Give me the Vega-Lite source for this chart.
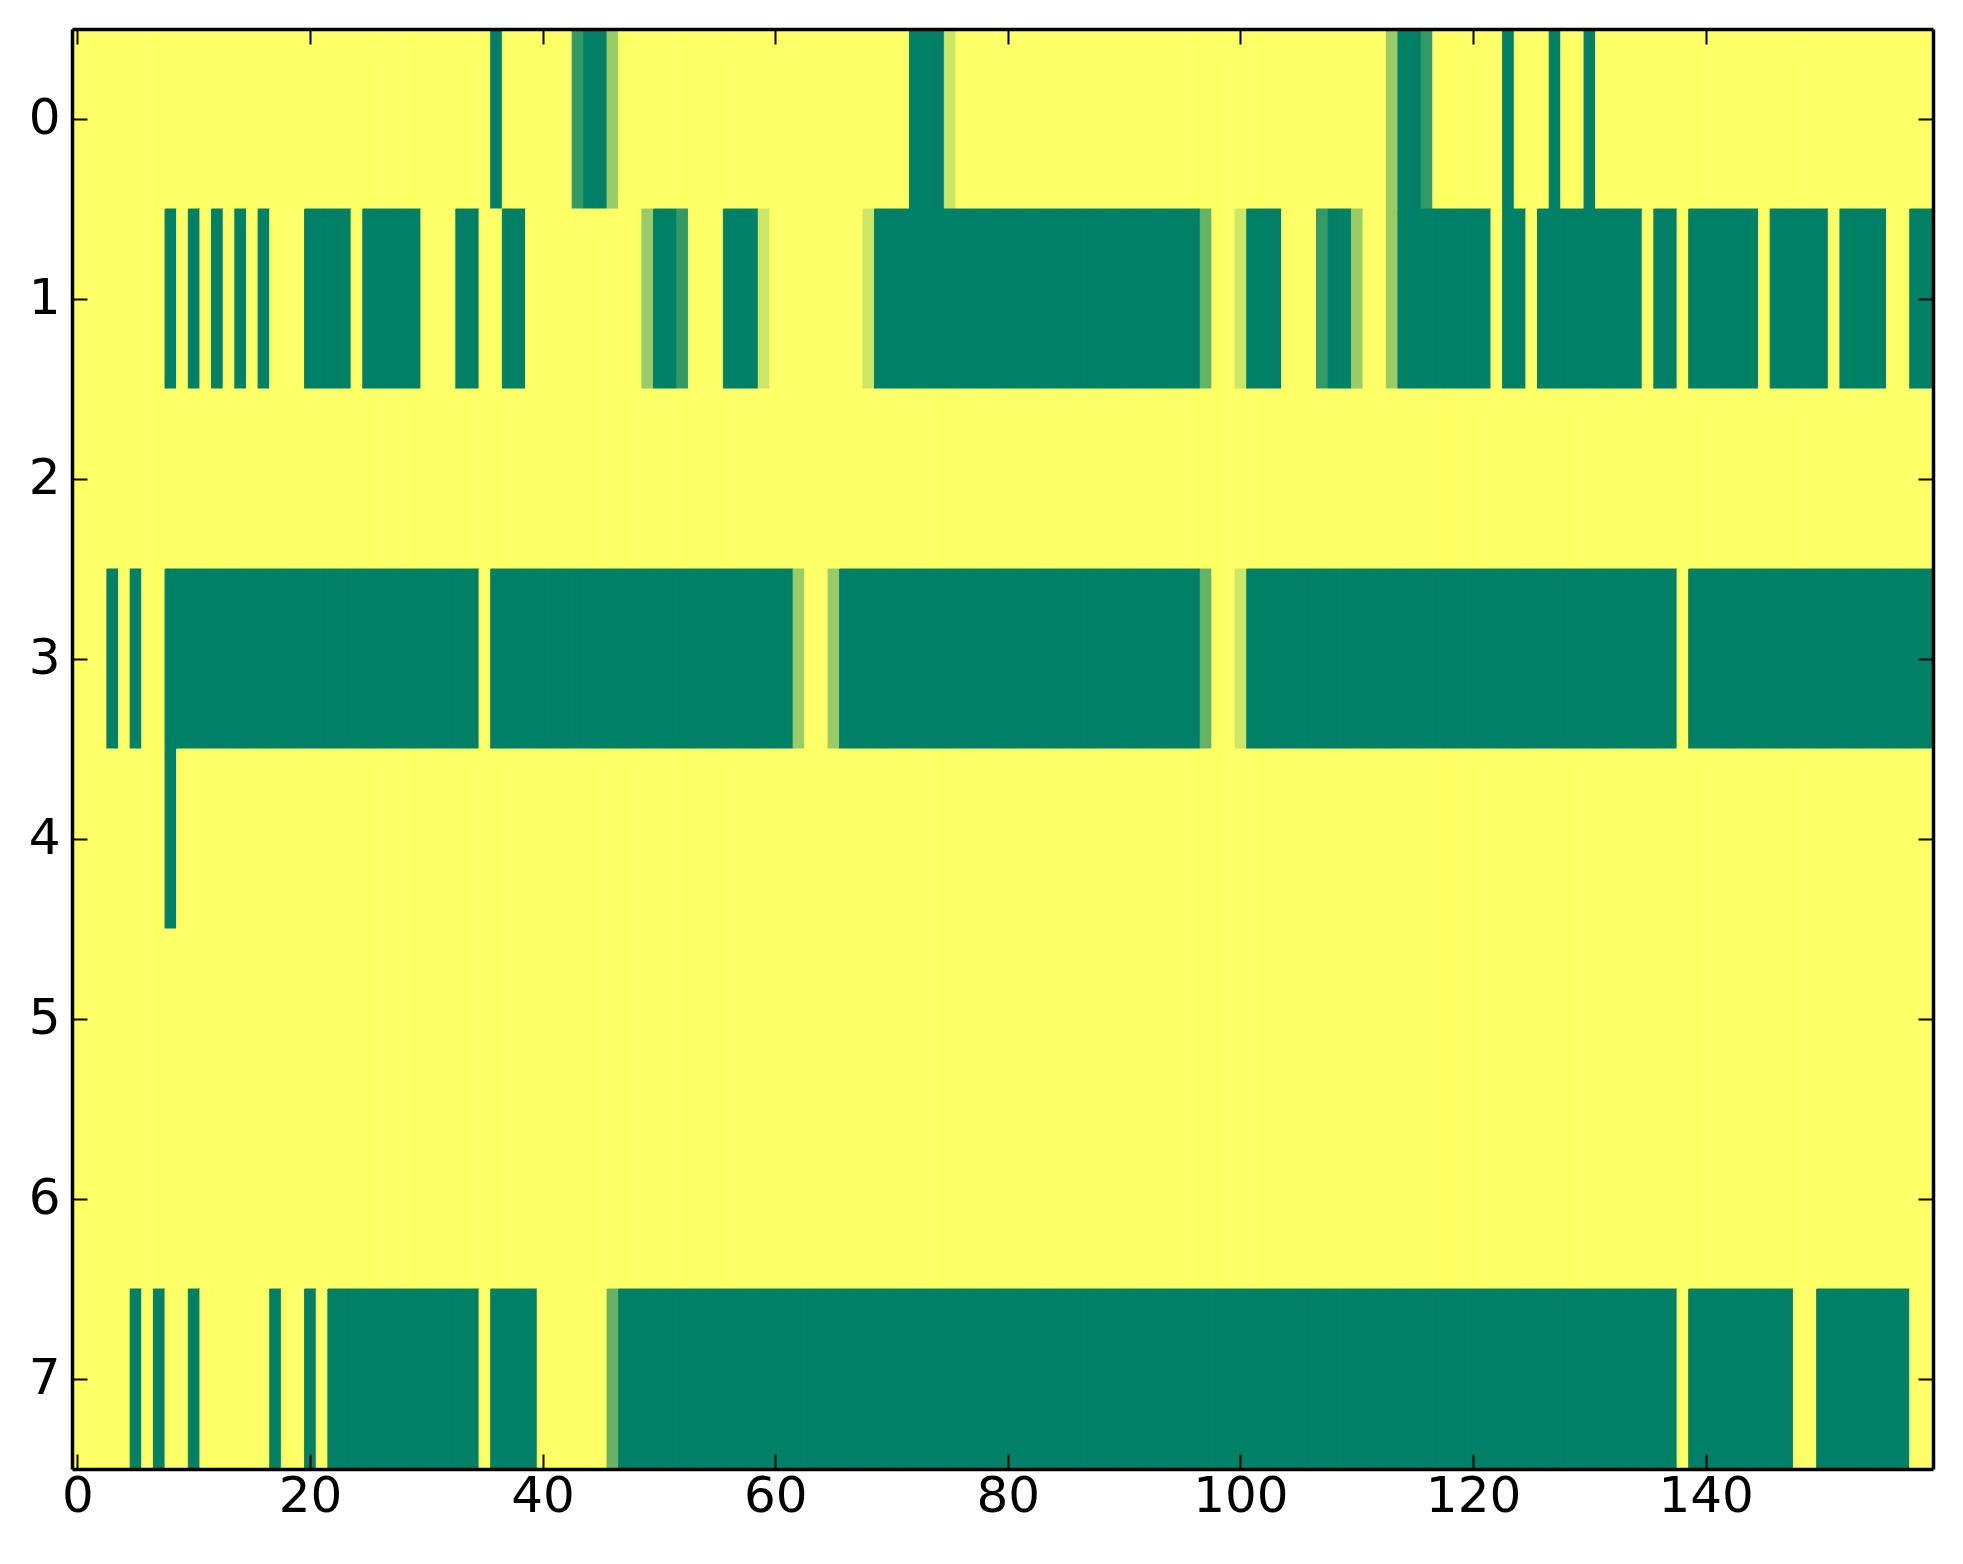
{
"$schema": "https://vega.github.io/schema/vega-lite/v6.json",
"width": 1861, "height": 1440,
"autosize": {"type": "none"},
"padding": {"left": 72, "top": 29, "right": 30, "bottom": 95},
"background": "white",
"config": {"view": {"stroke": null}},
"data": {"values": [
{"r":0,"c":0,"v":1},{"r":0,"c":1,"v":1},{"r":0,"c":2,"v":1},{"r":0,"c":3,"v":1},{"r":0,"c":4,"v":1},{"r":0,"c":5,"v":1},{"r":0,"c":6,"v":1},{"r":0,"c":7,"v":1},{"r":0,"c":8,"v":1},{"r":0,"c":9,"v":1},
{"r":0,"c":10,"v":1},{"r":0,"c":11,"v":1},{"r":0,"c":12,"v":1},{"r":0,"c":13,"v":1},{"r":0,"c":14,"v":1},{"r":0,"c":15,"v":1},{"r":0,"c":16,"v":1},{"r":0,"c":17,"v":1},{"r":0,"c":18,"v":1},{"r":0,"c":19,"v":1},
{"r":0,"c":20,"v":1},{"r":0,"c":21,"v":1},{"r":0,"c":22,"v":1},{"r":0,"c":23,"v":1},{"r":0,"c":24,"v":1},{"r":0,"c":25,"v":1},{"r":0,"c":26,"v":1},{"r":0,"c":27,"v":1},{"r":0,"c":28,"v":1},{"r":0,"c":29,"v":1},
{"r":0,"c":30,"v":1},{"r":0,"c":31,"v":1},{"r":0,"c":32,"v":1},{"r":0,"c":33,"v":1},{"r":0,"c":34,"v":1},{"r":0,"c":35,"v":1},{"r":0,"c":36,"v":0},{"r":0,"c":37,"v":1},{"r":0,"c":38,"v":1},{"r":0,"c":39,"v":1},
{"r":0,"c":40,"v":1},{"r":0,"c":41,"v":1},{"r":0,"c":42,"v":1},{"r":0,"c":43,"v":0.2},{"r":0,"c":44,"v":0},{"r":0,"c":45,"v":0},{"r":0,"c":46,"v":0.6},{"r":0,"c":47,"v":1},{"r":0,"c":48,"v":1},{"r":0,"c":49,"v":1},
{"r":0,"c":50,"v":1},{"r":0,"c":51,"v":1},{"r":0,"c":52,"v":1},{"r":0,"c":53,"v":1},{"r":0,"c":54,"v":1},{"r":0,"c":55,"v":1},{"r":0,"c":56,"v":1},{"r":0,"c":57,"v":1},{"r":0,"c":58,"v":1},{"r":0,"c":59,"v":1},
{"r":0,"c":60,"v":1},{"r":0,"c":61,"v":1},{"r":0,"c":62,"v":1},{"r":0,"c":63,"v":1},{"r":0,"c":64,"v":1},{"r":0,"c":65,"v":1},{"r":0,"c":66,"v":1},{"r":0,"c":67,"v":1},{"r":0,"c":68,"v":1},{"r":0,"c":69,"v":1},
{"r":0,"c":70,"v":1},{"r":0,"c":71,"v":1},{"r":0,"c":72,"v":0},{"r":0,"c":73,"v":0},{"r":0,"c":74,"v":0},{"r":0,"c":75,"v":0.8},{"r":0,"c":76,"v":1},{"r":0,"c":77,"v":1},{"r":0,"c":78,"v":1},{"r":0,"c":79,"v":1},
{"r":0,"c":80,"v":1},{"r":0,"c":81,"v":1},{"r":0,"c":82,"v":1},{"r":0,"c":83,"v":1},{"r":0,"c":84,"v":1},{"r":0,"c":85,"v":1},{"r":0,"c":86,"v":1},{"r":0,"c":87,"v":1},{"r":0,"c":88,"v":1},{"r":0,"c":89,"v":1},
{"r":0,"c":90,"v":1},{"r":0,"c":91,"v":1},{"r":0,"c":92,"v":1},{"r":0,"c":93,"v":1},{"r":0,"c":94,"v":1},{"r":0,"c":95,"v":1},{"r":0,"c":96,"v":1},{"r":0,"c":97,"v":1},{"r":0,"c":98,"v":1},{"r":0,"c":99,"v":1},
{"r":0,"c":100,"v":1},{"r":0,"c":101,"v":1},{"r":0,"c":102,"v":1},{"r":0,"c":103,"v":1},{"r":0,"c":104,"v":1},{"r":0,"c":105,"v":1},{"r":0,"c":106,"v":1},{"r":0,"c":107,"v":1},{"r":0,"c":108,"v":1},{"r":0,"c":109,"v":1},
{"r":0,"c":110,"v":1},{"r":0,"c":111,"v":1},{"r":0,"c":112,"v":1},{"r":0,"c":113,"v":0.6},{"r":0,"c":114,"v":0},{"r":0,"c":115,"v":0},{"r":0,"c":116,"v":0.2},{"r":0,"c":117,"v":1},{"r":0,"c":118,"v":1},{"r":0,"c":119,"v":1},
{"r":0,"c":120,"v":1},{"r":0,"c":121,"v":1},{"r":0,"c":122,"v":1},{"r":0,"c":123,"v":0},{"r":0,"c":124,"v":1},{"r":0,"c":125,"v":1},{"r":0,"c":126,"v":1},{"r":0,"c":127,"v":0},{"r":0,"c":128,"v":1},{"r":0,"c":129,"v":1},
{"r":0,"c":130,"v":0},{"r":0,"c":131,"v":1},{"r":0,"c":132,"v":1},{"r":0,"c":133,"v":1},{"r":0,"c":134,"v":1},{"r":0,"c":135,"v":1},{"r":0,"c":136,"v":1},{"r":0,"c":137,"v":1},{"r":0,"c":138,"v":1},{"r":0,"c":139,"v":1},
{"r":0,"c":140,"v":1},{"r":0,"c":141,"v":1},{"r":0,"c":142,"v":1},{"r":0,"c":143,"v":1},{"r":0,"c":144,"v":1},{"r":0,"c":145,"v":1},{"r":0,"c":146,"v":1},{"r":0,"c":147,"v":1},{"r":0,"c":148,"v":1},{"r":0,"c":149,"v":1},
{"r":0,"c":150,"v":1},{"r":0,"c":151,"v":1},{"r":0,"c":152,"v":1},{"r":0,"c":153,"v":1},{"r":0,"c":154,"v":1},{"r":0,"c":155,"v":1},{"r":0,"c":156,"v":1},{"r":0,"c":157,"v":1},{"r":0,"c":158,"v":1},{"r":0,"c":159,"v":1},
{"r":1,"c":0,"v":1},{"r":1,"c":1,"v":1},{"r":1,"c":2,"v":1},{"r":1,"c":3,"v":1},{"r":1,"c":4,"v":1},{"r":1,"c":5,"v":1},{"r":1,"c":6,"v":1},{"r":1,"c":7,"v":1},{"r":1,"c":8,"v":0},{"r":1,"c":9,"v":1},
{"r":1,"c":10,"v":0},{"r":1,"c":11,"v":1},{"r":1,"c":12,"v":0},{"r":1,"c":13,"v":1},{"r":1,"c":14,"v":0},{"r":1,"c":15,"v":1},{"r":1,"c":16,"v":0},{"r":1,"c":17,"v":1},{"r":1,"c":18,"v":1},{"r":1,"c":19,"v":1},
{"r":1,"c":20,"v":0},{"r":1,"c":21,"v":0},{"r":1,"c":22,"v":0},{"r":1,"c":23,"v":0},{"r":1,"c":24,"v":1},{"r":1,"c":25,"v":0},{"r":1,"c":26,"v":0},{"r":1,"c":27,"v":0},{"r":1,"c":28,"v":0},{"r":1,"c":29,"v":0},
{"r":1,"c":30,"v":1},{"r":1,"c":31,"v":1},{"r":1,"c":32,"v":1},{"r":1,"c":33,"v":0},{"r":1,"c":34,"v":0},{"r":1,"c":35,"v":1},{"r":1,"c":36,"v":1},{"r":1,"c":37,"v":0},{"r":1,"c":38,"v":0},{"r":1,"c":39,"v":1},
{"r":1,"c":40,"v":1},{"r":1,"c":41,"v":1},{"r":1,"c":42,"v":1},{"r":1,"c":43,"v":1},{"r":1,"c":44,"v":1},{"r":1,"c":45,"v":1},{"r":1,"c":46,"v":1},{"r":1,"c":47,"v":1},{"r":1,"c":48,"v":1},{"r":1,"c":49,"v":0.6},
{"r":1,"c":50,"v":0},{"r":1,"c":51,"v":0},{"r":1,"c":52,"v":0.2},{"r":1,"c":53,"v":1},{"r":1,"c":54,"v":1},{"r":1,"c":55,"v":1},{"r":1,"c":56,"v":0},{"r":1,"c":57,"v":0},{"r":1,"c":58,"v":0},{"r":1,"c":59,"v":0.8},
{"r":1,"c":60,"v":1},{"r":1,"c":61,"v":1},{"r":1,"c":62,"v":1},{"r":1,"c":63,"v":1},{"r":1,"c":64,"v":1},{"r":1,"c":65,"v":1},{"r":1,"c":66,"v":1},{"r":1,"c":67,"v":1},{"r":1,"c":68,"v":0.8},{"r":1,"c":69,"v":0},
{"r":1,"c":70,"v":0},{"r":1,"c":71,"v":0},{"r":1,"c":72,"v":0},{"r":1,"c":73,"v":0},{"r":1,"c":74,"v":0},{"r":1,"c":75,"v":0},{"r":1,"c":76,"v":0},{"r":1,"c":77,"v":0},{"r":1,"c":78,"v":0},{"r":1,"c":79,"v":0},
{"r":1,"c":80,"v":0},{"r":1,"c":81,"v":0},{"r":1,"c":82,"v":0},{"r":1,"c":83,"v":0},{"r":1,"c":84,"v":0},{"r":1,"c":85,"v":0},{"r":1,"c":86,"v":0},{"r":1,"c":87,"v":0},{"r":1,"c":88,"v":0},{"r":1,"c":89,"v":0},
{"r":1,"c":90,"v":0},{"r":1,"c":91,"v":0},{"r":1,"c":92,"v":0},{"r":1,"c":93,"v":0},{"r":1,"c":94,"v":0},{"r":1,"c":95,"v":0},{"r":1,"c":96,"v":0},{"r":1,"c":97,"v":0.4},{"r":1,"c":98,"v":1},{"r":1,"c":99,"v":1},
{"r":1,"c":100,"v":0.8},{"r":1,"c":101,"v":0},{"r":1,"c":102,"v":0},{"r":1,"c":103,"v":0},{"r":1,"c":104,"v":1},{"r":1,"c":105,"v":1},{"r":1,"c":106,"v":1},{"r":1,"c":107,"v":0.2},{"r":1,"c":108,"v":0},{"r":1,"c":109,"v":0},
{"r":1,"c":110,"v":0.6},{"r":1,"c":111,"v":1},{"r":1,"c":112,"v":1},{"r":1,"c":113,"v":0.6},{"r":1,"c":114,"v":0},{"r":1,"c":115,"v":0},{"r":1,"c":116,"v":0},{"r":1,"c":117,"v":0},{"r":1,"c":118,"v":0},{"r":1,"c":119,"v":0},
{"r":1,"c":120,"v":0},{"r":1,"c":121,"v":0},{"r":1,"c":122,"v":1},{"r":1,"c":123,"v":0},{"r":1,"c":124,"v":0},{"r":1,"c":125,"v":1},{"r":1,"c":126,"v":0},{"r":1,"c":127,"v":0},{"r":1,"c":128,"v":0},{"r":1,"c":129,"v":0},
{"r":1,"c":130,"v":0},{"r":1,"c":131,"v":0},{"r":1,"c":132,"v":0},{"r":1,"c":133,"v":0},{"r":1,"c":134,"v":0},{"r":1,"c":135,"v":1},{"r":1,"c":136,"v":0},{"r":1,"c":137,"v":0},{"r":1,"c":138,"v":1},{"r":1,"c":139,"v":0},
{"r":1,"c":140,"v":0},{"r":1,"c":141,"v":0},{"r":1,"c":142,"v":0},{"r":1,"c":143,"v":0},{"r":1,"c":144,"v":0},{"r":1,"c":145,"v":1},{"r":1,"c":146,"v":0},{"r":1,"c":147,"v":0},{"r":1,"c":148,"v":0},{"r":1,"c":149,"v":0},
{"r":1,"c":150,"v":0},{"r":1,"c":151,"v":1},{"r":1,"c":152,"v":0},{"r":1,"c":153,"v":0},{"r":1,"c":154,"v":0},{"r":1,"c":155,"v":0},{"r":1,"c":156,"v":1},{"r":1,"c":157,"v":1},{"r":1,"c":158,"v":0},{"r":1,"c":159,"v":0},
{"r":2,"c":0,"v":1},{"r":2,"c":1,"v":1},{"r":2,"c":2,"v":1},{"r":2,"c":3,"v":1},{"r":2,"c":4,"v":1},{"r":2,"c":5,"v":1},{"r":2,"c":6,"v":1},{"r":2,"c":7,"v":1},{"r":2,"c":8,"v":1},{"r":2,"c":9,"v":1},
{"r":2,"c":10,"v":1},{"r":2,"c":11,"v":1},{"r":2,"c":12,"v":1},{"r":2,"c":13,"v":1},{"r":2,"c":14,"v":1},{"r":2,"c":15,"v":1},{"r":2,"c":16,"v":1},{"r":2,"c":17,"v":1},{"r":2,"c":18,"v":1},{"r":2,"c":19,"v":1},
{"r":2,"c":20,"v":1},{"r":2,"c":21,"v":1},{"r":2,"c":22,"v":1},{"r":2,"c":23,"v":1},{"r":2,"c":24,"v":1},{"r":2,"c":25,"v":1},{"r":2,"c":26,"v":1},{"r":2,"c":27,"v":1},{"r":2,"c":28,"v":1},{"r":2,"c":29,"v":1},
{"r":2,"c":30,"v":1},{"r":2,"c":31,"v":1},{"r":2,"c":32,"v":1},{"r":2,"c":33,"v":1},{"r":2,"c":34,"v":1},{"r":2,"c":35,"v":1},{"r":2,"c":36,"v":1},{"r":2,"c":37,"v":1},{"r":2,"c":38,"v":1},{"r":2,"c":39,"v":1},
{"r":2,"c":40,"v":1},{"r":2,"c":41,"v":1},{"r":2,"c":42,"v":1},{"r":2,"c":43,"v":1},{"r":2,"c":44,"v":1},{"r":2,"c":45,"v":1},{"r":2,"c":46,"v":1},{"r":2,"c":47,"v":1},{"r":2,"c":48,"v":1},{"r":2,"c":49,"v":1},
{"r":2,"c":50,"v":1},{"r":2,"c":51,"v":1},{"r":2,"c":52,"v":1},{"r":2,"c":53,"v":1},{"r":2,"c":54,"v":1},{"r":2,"c":55,"v":1},{"r":2,"c":56,"v":1},{"r":2,"c":57,"v":1},{"r":2,"c":58,"v":1},{"r":2,"c":59,"v":1},
{"r":2,"c":60,"v":1},{"r":2,"c":61,"v":1},{"r":2,"c":62,"v":1},{"r":2,"c":63,"v":1},{"r":2,"c":64,"v":1},{"r":2,"c":65,"v":1},{"r":2,"c":66,"v":1},{"r":2,"c":67,"v":1},{"r":2,"c":68,"v":1},{"r":2,"c":69,"v":1},
{"r":2,"c":70,"v":1},{"r":2,"c":71,"v":1},{"r":2,"c":72,"v":1},{"r":2,"c":73,"v":1},{"r":2,"c":74,"v":1},{"r":2,"c":75,"v":1},{"r":2,"c":76,"v":1},{"r":2,"c":77,"v":1},{"r":2,"c":78,"v":1},{"r":2,"c":79,"v":1},
{"r":2,"c":80,"v":1},{"r":2,"c":81,"v":1},{"r":2,"c":82,"v":1},{"r":2,"c":83,"v":1},{"r":2,"c":84,"v":1},{"r":2,"c":85,"v":1},{"r":2,"c":86,"v":1},{"r":2,"c":87,"v":1},{"r":2,"c":88,"v":1},{"r":2,"c":89,"v":1},
{"r":2,"c":90,"v":1},{"r":2,"c":91,"v":1},{"r":2,"c":92,"v":1},{"r":2,"c":93,"v":1},{"r":2,"c":94,"v":1},{"r":2,"c":95,"v":1},{"r":2,"c":96,"v":1},{"r":2,"c":97,"v":1},{"r":2,"c":98,"v":1},{"r":2,"c":99,"v":1},
{"r":2,"c":100,"v":1},{"r":2,"c":101,"v":1},{"r":2,"c":102,"v":1},{"r":2,"c":103,"v":1},{"r":2,"c":104,"v":1},{"r":2,"c":105,"v":1},{"r":2,"c":106,"v":1},{"r":2,"c":107,"v":1},{"r":2,"c":108,"v":1},{"r":2,"c":109,"v":1},
{"r":2,"c":110,"v":1},{"r":2,"c":111,"v":1},{"r":2,"c":112,"v":1},{"r":2,"c":113,"v":1},{"r":2,"c":114,"v":1},{"r":2,"c":115,"v":1},{"r":2,"c":116,"v":1},{"r":2,"c":117,"v":1},{"r":2,"c":118,"v":1},{"r":2,"c":119,"v":1},
{"r":2,"c":120,"v":1},{"r":2,"c":121,"v":1},{"r":2,"c":122,"v":1},{"r":2,"c":123,"v":1},{"r":2,"c":124,"v":1},{"r":2,"c":125,"v":1},{"r":2,"c":126,"v":1},{"r":2,"c":127,"v":1},{"r":2,"c":128,"v":1},{"r":2,"c":129,"v":1},
{"r":2,"c":130,"v":1},{"r":2,"c":131,"v":1},{"r":2,"c":132,"v":1},{"r":2,"c":133,"v":1},{"r":2,"c":134,"v":1},{"r":2,"c":135,"v":1},{"r":2,"c":136,"v":1},{"r":2,"c":137,"v":1},{"r":2,"c":138,"v":1},{"r":2,"c":139,"v":1},
{"r":2,"c":140,"v":1},{"r":2,"c":141,"v":1},{"r":2,"c":142,"v":1},{"r":2,"c":143,"v":1},{"r":2,"c":144,"v":1},{"r":2,"c":145,"v":1},{"r":2,"c":146,"v":1},{"r":2,"c":147,"v":1},{"r":2,"c":148,"v":1},{"r":2,"c":149,"v":1},
{"r":2,"c":150,"v":1},{"r":2,"c":151,"v":1},{"r":2,"c":152,"v":1},{"r":2,"c":153,"v":1},{"r":2,"c":154,"v":1},{"r":2,"c":155,"v":1},{"r":2,"c":156,"v":1},{"r":2,"c":157,"v":1},{"r":2,"c":158,"v":1},{"r":2,"c":159,"v":1},
{"r":3,"c":0,"v":1},{"r":3,"c":1,"v":1},{"r":3,"c":2,"v":1},{"r":3,"c":3,"v":0},{"r":3,"c":4,"v":1},{"r":3,"c":5,"v":0},{"r":3,"c":6,"v":1},{"r":3,"c":7,"v":1},{"r":3,"c":8,"v":0},{"r":3,"c":9,"v":0},
{"r":3,"c":10,"v":0},{"r":3,"c":11,"v":0},{"r":3,"c":12,"v":0},{"r":3,"c":13,"v":0},{"r":3,"c":14,"v":0},{"r":3,"c":15,"v":0},{"r":3,"c":16,"v":0},{"r":3,"c":17,"v":0},{"r":3,"c":18,"v":0},{"r":3,"c":19,"v":0},
{"r":3,"c":20,"v":0},{"r":3,"c":21,"v":0},{"r":3,"c":22,"v":0},{"r":3,"c":23,"v":0},{"r":3,"c":24,"v":0},{"r":3,"c":25,"v":0},{"r":3,"c":26,"v":0},{"r":3,"c":27,"v":0},{"r":3,"c":28,"v":0},{"r":3,"c":29,"v":0},
{"r":3,"c":30,"v":0},{"r":3,"c":31,"v":0},{"r":3,"c":32,"v":0},{"r":3,"c":33,"v":0},{"r":3,"c":34,"v":0},{"r":3,"c":35,"v":1},{"r":3,"c":36,"v":0},{"r":3,"c":37,"v":0},{"r":3,"c":38,"v":0},{"r":3,"c":39,"v":0},
{"r":3,"c":40,"v":0},{"r":3,"c":41,"v":0},{"r":3,"c":42,"v":0},{"r":3,"c":43,"v":0},{"r":3,"c":44,"v":0},{"r":3,"c":45,"v":0},{"r":3,"c":46,"v":0},{"r":3,"c":47,"v":0},{"r":3,"c":48,"v":0},{"r":3,"c":49,"v":0},
{"r":3,"c":50,"v":0},{"r":3,"c":51,"v":0},{"r":3,"c":52,"v":0},{"r":3,"c":53,"v":0},{"r":3,"c":54,"v":0},{"r":3,"c":55,"v":0},{"r":3,"c":56,"v":0},{"r":3,"c":57,"v":0},{"r":3,"c":58,"v":0},{"r":3,"c":59,"v":0},
{"r":3,"c":60,"v":0},{"r":3,"c":61,"v":0},{"r":3,"c":62,"v":0.6},{"r":3,"c":63,"v":1},{"r":3,"c":64,"v":1},{"r":3,"c":65,"v":0.6},{"r":3,"c":66,"v":0},{"r":3,"c":67,"v":0},{"r":3,"c":68,"v":0},{"r":3,"c":69,"v":0},
{"r":3,"c":70,"v":0},{"r":3,"c":71,"v":0},{"r":3,"c":72,"v":0},{"r":3,"c":73,"v":0},{"r":3,"c":74,"v":0},{"r":3,"c":75,"v":0},{"r":3,"c":76,"v":0},{"r":3,"c":77,"v":0},{"r":3,"c":78,"v":0},{"r":3,"c":79,"v":0},
{"r":3,"c":80,"v":0},{"r":3,"c":81,"v":0},{"r":3,"c":82,"v":0},{"r":3,"c":83,"v":0},{"r":3,"c":84,"v":0},{"r":3,"c":85,"v":0},{"r":3,"c":86,"v":0},{"r":3,"c":87,"v":0},{"r":3,"c":88,"v":0},{"r":3,"c":89,"v":0},
{"r":3,"c":90,"v":0},{"r":3,"c":91,"v":0},{"r":3,"c":92,"v":0},{"r":3,"c":93,"v":0},{"r":3,"c":94,"v":0},{"r":3,"c":95,"v":0},{"r":3,"c":96,"v":0},{"r":3,"c":97,"v":0.4},{"r":3,"c":98,"v":1},{"r":3,"c":99,"v":1},
{"r":3,"c":100,"v":0.8},{"r":3,"c":101,"v":0},{"r":3,"c":102,"v":0},{"r":3,"c":103,"v":0},{"r":3,"c":104,"v":0},{"r":3,"c":105,"v":0},{"r":3,"c":106,"v":0},{"r":3,"c":107,"v":0},{"r":3,"c":108,"v":0},{"r":3,"c":109,"v":0},
{"r":3,"c":110,"v":0},{"r":3,"c":111,"v":0},{"r":3,"c":112,"v":0},{"r":3,"c":113,"v":0},{"r":3,"c":114,"v":0},{"r":3,"c":115,"v":0},{"r":3,"c":116,"v":0},{"r":3,"c":117,"v":0},{"r":3,"c":118,"v":0},{"r":3,"c":119,"v":0},
{"r":3,"c":120,"v":0},{"r":3,"c":121,"v":0},{"r":3,"c":122,"v":0},{"r":3,"c":123,"v":0},{"r":3,"c":124,"v":0},{"r":3,"c":125,"v":0},{"r":3,"c":126,"v":0},{"r":3,"c":127,"v":0},{"r":3,"c":128,"v":0},{"r":3,"c":129,"v":0},
{"r":3,"c":130,"v":0},{"r":3,"c":131,"v":0},{"r":3,"c":132,"v":0},{"r":3,"c":133,"v":0},{"r":3,"c":134,"v":0},{"r":3,"c":135,"v":0},{"r":3,"c":136,"v":0},{"r":3,"c":137,"v":0},{"r":3,"c":138,"v":1},{"r":3,"c":139,"v":0},
{"r":3,"c":140,"v":0},{"r":3,"c":141,"v":0},{"r":3,"c":142,"v":0},{"r":3,"c":143,"v":0},{"r":3,"c":144,"v":0},{"r":3,"c":145,"v":0},{"r":3,"c":146,"v":0},{"r":3,"c":147,"v":0},{"r":3,"c":148,"v":0},{"r":3,"c":149,"v":0},
{"r":3,"c":150,"v":0},{"r":3,"c":151,"v":0},{"r":3,"c":152,"v":0},{"r":3,"c":153,"v":0},{"r":3,"c":154,"v":0},{"r":3,"c":155,"v":0},{"r":3,"c":156,"v":0},{"r":3,"c":157,"v":0},{"r":3,"c":158,"v":0},{"r":3,"c":159,"v":0},
{"r":4,"c":0,"v":1},{"r":4,"c":1,"v":1},{"r":4,"c":2,"v":1},{"r":4,"c":3,"v":1},{"r":4,"c":4,"v":1},{"r":4,"c":5,"v":1},{"r":4,"c":6,"v":1},{"r":4,"c":7,"v":1},{"r":4,"c":8,"v":0},{"r":4,"c":9,"v":1},
{"r":4,"c":10,"v":1},{"r":4,"c":11,"v":1},{"r":4,"c":12,"v":1},{"r":4,"c":13,"v":1},{"r":4,"c":14,"v":1},{"r":4,"c":15,"v":1},{"r":4,"c":16,"v":1},{"r":4,"c":17,"v":1},{"r":4,"c":18,"v":1},{"r":4,"c":19,"v":1},
{"r":4,"c":20,"v":1},{"r":4,"c":21,"v":1},{"r":4,"c":22,"v":1},{"r":4,"c":23,"v":1},{"r":4,"c":24,"v":1},{"r":4,"c":25,"v":1},{"r":4,"c":26,"v":1},{"r":4,"c":27,"v":1},{"r":4,"c":28,"v":1},{"r":4,"c":29,"v":1},
{"r":4,"c":30,"v":1},{"r":4,"c":31,"v":1},{"r":4,"c":32,"v":1},{"r":4,"c":33,"v":1},{"r":4,"c":34,"v":1},{"r":4,"c":35,"v":1},{"r":4,"c":36,"v":1},{"r":4,"c":37,"v":1},{"r":4,"c":38,"v":1},{"r":4,"c":39,"v":1},
{"r":4,"c":40,"v":1},{"r":4,"c":41,"v":1},{"r":4,"c":42,"v":1},{"r":4,"c":43,"v":1},{"r":4,"c":44,"v":1},{"r":4,"c":45,"v":1},{"r":4,"c":46,"v":1},{"r":4,"c":47,"v":1},{"r":4,"c":48,"v":1},{"r":4,"c":49,"v":1},
{"r":4,"c":50,"v":1},{"r":4,"c":51,"v":1},{"r":4,"c":52,"v":1},{"r":4,"c":53,"v":1},{"r":4,"c":54,"v":1},{"r":4,"c":55,"v":1},{"r":4,"c":56,"v":1},{"r":4,"c":57,"v":1},{"r":4,"c":58,"v":1},{"r":4,"c":59,"v":1},
{"r":4,"c":60,"v":1},{"r":4,"c":61,"v":1},{"r":4,"c":62,"v":1},{"r":4,"c":63,"v":1},{"r":4,"c":64,"v":1},{"r":4,"c":65,"v":1},{"r":4,"c":66,"v":1},{"r":4,"c":67,"v":1},{"r":4,"c":68,"v":1},{"r":4,"c":69,"v":1},
{"r":4,"c":70,"v":1},{"r":4,"c":71,"v":1},{"r":4,"c":72,"v":1},{"r":4,"c":73,"v":1},{"r":4,"c":74,"v":1},{"r":4,"c":75,"v":1},{"r":4,"c":76,"v":1},{"r":4,"c":77,"v":1},{"r":4,"c":78,"v":1},{"r":4,"c":79,"v":1},
{"r":4,"c":80,"v":1},{"r":4,"c":81,"v":1},{"r":4,"c":82,"v":1},{"r":4,"c":83,"v":1},{"r":4,"c":84,"v":1},{"r":4,"c":85,"v":1},{"r":4,"c":86,"v":1},{"r":4,"c":87,"v":1},{"r":4,"c":88,"v":1},{"r":4,"c":89,"v":1},
{"r":4,"c":90,"v":1},{"r":4,"c":91,"v":1},{"r":4,"c":92,"v":1},{"r":4,"c":93,"v":1},{"r":4,"c":94,"v":1},{"r":4,"c":95,"v":1},{"r":4,"c":96,"v":1},{"r":4,"c":97,"v":1},{"r":4,"c":98,"v":1},{"r":4,"c":99,"v":1},
{"r":4,"c":100,"v":1},{"r":4,"c":101,"v":1},{"r":4,"c":102,"v":1},{"r":4,"c":103,"v":1},{"r":4,"c":104,"v":1},{"r":4,"c":105,"v":1},{"r":4,"c":106,"v":1},{"r":4,"c":107,"v":1},{"r":4,"c":108,"v":1},{"r":4,"c":109,"v":1},
{"r":4,"c":110,"v":1},{"r":4,"c":111,"v":1},{"r":4,"c":112,"v":1},{"r":4,"c":113,"v":1},{"r":4,"c":114,"v":1},{"r":4,"c":115,"v":1},{"r":4,"c":116,"v":1},{"r":4,"c":117,"v":1},{"r":4,"c":118,"v":1},{"r":4,"c":119,"v":1},
{"r":4,"c":120,"v":1},{"r":4,"c":121,"v":1},{"r":4,"c":122,"v":1},{"r":4,"c":123,"v":1},{"r":4,"c":124,"v":1},{"r":4,"c":125,"v":1},{"r":4,"c":126,"v":1},{"r":4,"c":127,"v":1},{"r":4,"c":128,"v":1},{"r":4,"c":129,"v":1},
{"r":4,"c":130,"v":1},{"r":4,"c":131,"v":1},{"r":4,"c":132,"v":1},{"r":4,"c":133,"v":1},{"r":4,"c":134,"v":1},{"r":4,"c":135,"v":1},{"r":4,"c":136,"v":1},{"r":4,"c":137,"v":1},{"r":4,"c":138,"v":1},{"r":4,"c":139,"v":1},
{"r":4,"c":140,"v":1},{"r":4,"c":141,"v":1},{"r":4,"c":142,"v":1},{"r":4,"c":143,"v":1},{"r":4,"c":144,"v":1},{"r":4,"c":145,"v":1},{"r":4,"c":146,"v":1},{"r":4,"c":147,"v":1},{"r":4,"c":148,"v":1},{"r":4,"c":149,"v":1},
{"r":4,"c":150,"v":1},{"r":4,"c":151,"v":1},{"r":4,"c":152,"v":1},{"r":4,"c":153,"v":1},{"r":4,"c":154,"v":1},{"r":4,"c":155,"v":1},{"r":4,"c":156,"v":1},{"r":4,"c":157,"v":1},{"r":4,"c":158,"v":1},{"r":4,"c":159,"v":1},
{"r":5,"c":0,"v":1},{"r":5,"c":1,"v":1},{"r":5,"c":2,"v":1},{"r":5,"c":3,"v":1},{"r":5,"c":4,"v":1},{"r":5,"c":5,"v":1},{"r":5,"c":6,"v":1},{"r":5,"c":7,"v":1},{"r":5,"c":8,"v":1},{"r":5,"c":9,"v":1},
{"r":5,"c":10,"v":1},{"r":5,"c":11,"v":1},{"r":5,"c":12,"v":1},{"r":5,"c":13,"v":1},{"r":5,"c":14,"v":1},{"r":5,"c":15,"v":1},{"r":5,"c":16,"v":1},{"r":5,"c":17,"v":1},{"r":5,"c":18,"v":1},{"r":5,"c":19,"v":1},
{"r":5,"c":20,"v":1},{"r":5,"c":21,"v":1},{"r":5,"c":22,"v":1},{"r":5,"c":23,"v":1},{"r":5,"c":24,"v":1},{"r":5,"c":25,"v":1},{"r":5,"c":26,"v":1},{"r":5,"c":27,"v":1},{"r":5,"c":28,"v":1},{"r":5,"c":29,"v":1},
{"r":5,"c":30,"v":1},{"r":5,"c":31,"v":1},{"r":5,"c":32,"v":1},{"r":5,"c":33,"v":1},{"r":5,"c":34,"v":1},{"r":5,"c":35,"v":1},{"r":5,"c":36,"v":1},{"r":5,"c":37,"v":1},{"r":5,"c":38,"v":1},{"r":5,"c":39,"v":1},
{"r":5,"c":40,"v":1},{"r":5,"c":41,"v":1},{"r":5,"c":42,"v":1},{"r":5,"c":43,"v":1},{"r":5,"c":44,"v":1},{"r":5,"c":45,"v":1},{"r":5,"c":46,"v":1},{"r":5,"c":47,"v":1},{"r":5,"c":48,"v":1},{"r":5,"c":49,"v":1},
{"r":5,"c":50,"v":1},{"r":5,"c":51,"v":1},{"r":5,"c":52,"v":1},{"r":5,"c":53,"v":1},{"r":5,"c":54,"v":1},{"r":5,"c":55,"v":1},{"r":5,"c":56,"v":1},{"r":5,"c":57,"v":1},{"r":5,"c":58,"v":1},{"r":5,"c":59,"v":1},
{"r":5,"c":60,"v":1},{"r":5,"c":61,"v":1},{"r":5,"c":62,"v":1},{"r":5,"c":63,"v":1},{"r":5,"c":64,"v":1},{"r":5,"c":65,"v":1},{"r":5,"c":66,"v":1},{"r":5,"c":67,"v":1},{"r":5,"c":68,"v":1},{"r":5,"c":69,"v":1},
{"r":5,"c":70,"v":1},{"r":5,"c":71,"v":1},{"r":5,"c":72,"v":1},{"r":5,"c":73,"v":1},{"r":5,"c":74,"v":1},{"r":5,"c":75,"v":1},{"r":5,"c":76,"v":1},{"r":5,"c":77,"v":1},{"r":5,"c":78,"v":1},{"r":5,"c":79,"v":1},
{"r":5,"c":80,"v":1},{"r":5,"c":81,"v":1},{"r":5,"c":82,"v":1},{"r":5,"c":83,"v":1},{"r":5,"c":84,"v":1},{"r":5,"c":85,"v":1},{"r":5,"c":86,"v":1},{"r":5,"c":87,"v":1},{"r":5,"c":88,"v":1},{"r":5,"c":89,"v":1},
{"r":5,"c":90,"v":1},{"r":5,"c":91,"v":1},{"r":5,"c":92,"v":1},{"r":5,"c":93,"v":1},{"r":5,"c":94,"v":1},{"r":5,"c":95,"v":1},{"r":5,"c":96,"v":1},{"r":5,"c":97,"v":1},{"r":5,"c":98,"v":1},{"r":5,"c":99,"v":1},
{"r":5,"c":100,"v":1},{"r":5,"c":101,"v":1},{"r":5,"c":102,"v":1},{"r":5,"c":103,"v":1},{"r":5,"c":104,"v":1},{"r":5,"c":105,"v":1},{"r":5,"c":106,"v":1},{"r":5,"c":107,"v":1},{"r":5,"c":108,"v":1},{"r":5,"c":109,"v":1},
{"r":5,"c":110,"v":1},{"r":5,"c":111,"v":1},{"r":5,"c":112,"v":1},{"r":5,"c":113,"v":1},{"r":5,"c":114,"v":1},{"r":5,"c":115,"v":1},{"r":5,"c":116,"v":1},{"r":5,"c":117,"v":1},{"r":5,"c":118,"v":1},{"r":5,"c":119,"v":1},
{"r":5,"c":120,"v":1},{"r":5,"c":121,"v":1},{"r":5,"c":122,"v":1},{"r":5,"c":123,"v":1},{"r":5,"c":124,"v":1},{"r":5,"c":125,"v":1},{"r":5,"c":126,"v":1},{"r":5,"c":127,"v":1},{"r":5,"c":128,"v":1},{"r":5,"c":129,"v":1},
{"r":5,"c":130,"v":1},{"r":5,"c":131,"v":1},{"r":5,"c":132,"v":1},{"r":5,"c":133,"v":1},{"r":5,"c":134,"v":1},{"r":5,"c":135,"v":1},{"r":5,"c":136,"v":1},{"r":5,"c":137,"v":1},{"r":5,"c":138,"v":1},{"r":5,"c":139,"v":1},
{"r":5,"c":140,"v":1},{"r":5,"c":141,"v":1},{"r":5,"c":142,"v":1},{"r":5,"c":143,"v":1},{"r":5,"c":144,"v":1},{"r":5,"c":145,"v":1},{"r":5,"c":146,"v":1},{"r":5,"c":147,"v":1},{"r":5,"c":148,"v":1},{"r":5,"c":149,"v":1},
{"r":5,"c":150,"v":1},{"r":5,"c":151,"v":1},{"r":5,"c":152,"v":1},{"r":5,"c":153,"v":1},{"r":5,"c":154,"v":1},{"r":5,"c":155,"v":1},{"r":5,"c":156,"v":1},{"r":5,"c":157,"v":1},{"r":5,"c":158,"v":1},{"r":5,"c":159,"v":1},
{"r":6,"c":0,"v":1},{"r":6,"c":1,"v":1},{"r":6,"c":2,"v":1},{"r":6,"c":3,"v":1},{"r":6,"c":4,"v":1},{"r":6,"c":5,"v":1},{"r":6,"c":6,"v":1},{"r":6,"c":7,"v":1},{"r":6,"c":8,"v":1},{"r":6,"c":9,"v":1},
{"r":6,"c":10,"v":1},{"r":6,"c":11,"v":1},{"r":6,"c":12,"v":1},{"r":6,"c":13,"v":1},{"r":6,"c":14,"v":1},{"r":6,"c":15,"v":1},{"r":6,"c":16,"v":1},{"r":6,"c":17,"v":1},{"r":6,"c":18,"v":1},{"r":6,"c":19,"v":1},
{"r":6,"c":20,"v":1},{"r":6,"c":21,"v":1},{"r":6,"c":22,"v":1},{"r":6,"c":23,"v":1},{"r":6,"c":24,"v":1},{"r":6,"c":25,"v":1},{"r":6,"c":26,"v":1},{"r":6,"c":27,"v":1},{"r":6,"c":28,"v":1},{"r":6,"c":29,"v":1},
{"r":6,"c":30,"v":1},{"r":6,"c":31,"v":1},{"r":6,"c":32,"v":1},{"r":6,"c":33,"v":1},{"r":6,"c":34,"v":1},{"r":6,"c":35,"v":1},{"r":6,"c":36,"v":1},{"r":6,"c":37,"v":1},{"r":6,"c":38,"v":1},{"r":6,"c":39,"v":1},
{"r":6,"c":40,"v":1},{"r":6,"c":41,"v":1},{"r":6,"c":42,"v":1},{"r":6,"c":43,"v":1},{"r":6,"c":44,"v":1},{"r":6,"c":45,"v":1},{"r":6,"c":46,"v":1},{"r":6,"c":47,"v":1},{"r":6,"c":48,"v":1},{"r":6,"c":49,"v":1},
{"r":6,"c":50,"v":1},{"r":6,"c":51,"v":1},{"r":6,"c":52,"v":1},{"r":6,"c":53,"v":1},{"r":6,"c":54,"v":1},{"r":6,"c":55,"v":1},{"r":6,"c":56,"v":1},{"r":6,"c":57,"v":1},{"r":6,"c":58,"v":1},{"r":6,"c":59,"v":1},
{"r":6,"c":60,"v":1},{"r":6,"c":61,"v":1},{"r":6,"c":62,"v":1},{"r":6,"c":63,"v":1},{"r":6,"c":64,"v":1},{"r":6,"c":65,"v":1},{"r":6,"c":66,"v":1},{"r":6,"c":67,"v":1},{"r":6,"c":68,"v":1},{"r":6,"c":69,"v":1},
{"r":6,"c":70,"v":1},{"r":6,"c":71,"v":1},{"r":6,"c":72,"v":1},{"r":6,"c":73,"v":1},{"r":6,"c":74,"v":1},{"r":6,"c":75,"v":1},{"r":6,"c":76,"v":1},{"r":6,"c":77,"v":1},{"r":6,"c":78,"v":1},{"r":6,"c":79,"v":1},
{"r":6,"c":80,"v":1},{"r":6,"c":81,"v":1},{"r":6,"c":82,"v":1},{"r":6,"c":83,"v":1},{"r":6,"c":84,"v":1},{"r":6,"c":85,"v":1},{"r":6,"c":86,"v":1},{"r":6,"c":87,"v":1},{"r":6,"c":88,"v":1},{"r":6,"c":89,"v":1},
{"r":6,"c":90,"v":1},{"r":6,"c":91,"v":1},{"r":6,"c":92,"v":1},{"r":6,"c":93,"v":1},{"r":6,"c":94,"v":1},{"r":6,"c":95,"v":1},{"r":6,"c":96,"v":1},{"r":6,"c":97,"v":1},{"r":6,"c":98,"v":1},{"r":6,"c":99,"v":1},
{"r":6,"c":100,"v":1},{"r":6,"c":101,"v":1},{"r":6,"c":102,"v":1},{"r":6,"c":103,"v":1},{"r":6,"c":104,"v":1},{"r":6,"c":105,"v":1},{"r":6,"c":106,"v":1},{"r":6,"c":107,"v":1},{"r":6,"c":108,"v":1},{"r":6,"c":109,"v":1},
{"r":6,"c":110,"v":1},{"r":6,"c":111,"v":1},{"r":6,"c":112,"v":1},{"r":6,"c":113,"v":1},{"r":6,"c":114,"v":1},{"r":6,"c":115,"v":1},{"r":6,"c":116,"v":1},{"r":6,"c":117,"v":1},{"r":6,"c":118,"v":1},{"r":6,"c":119,"v":1},
{"r":6,"c":120,"v":1},{"r":6,"c":121,"v":1},{"r":6,"c":122,"v":1},{"r":6,"c":123,"v":1},{"r":6,"c":124,"v":1},{"r":6,"c":125,"v":1},{"r":6,"c":126,"v":1},{"r":6,"c":127,"v":1},{"r":6,"c":128,"v":1},{"r":6,"c":129,"v":1},
{"r":6,"c":130,"v":1},{"r":6,"c":131,"v":1},{"r":6,"c":132,"v":1},{"r":6,"c":133,"v":1},{"r":6,"c":134,"v":1},{"r":6,"c":135,"v":1},{"r":6,"c":136,"v":1},{"r":6,"c":137,"v":1},{"r":6,"c":138,"v":1},{"r":6,"c":139,"v":1},
{"r":6,"c":140,"v":1},{"r":6,"c":141,"v":1},{"r":6,"c":142,"v":1},{"r":6,"c":143,"v":1},{"r":6,"c":144,"v":1},{"r":6,"c":145,"v":1},{"r":6,"c":146,"v":1},{"r":6,"c":147,"v":1},{"r":6,"c":148,"v":1},{"r":6,"c":149,"v":1},
{"r":6,"c":150,"v":1},{"r":6,"c":151,"v":1},{"r":6,"c":152,"v":1},{"r":6,"c":153,"v":1},{"r":6,"c":154,"v":1},{"r":6,"c":155,"v":1},{"r":6,"c":156,"v":1},{"r":6,"c":157,"v":1},{"r":6,"c":158,"v":1},{"r":6,"c":159,"v":1},
{"r":7,"c":0,"v":1},{"r":7,"c":1,"v":1},{"r":7,"c":2,"v":1},{"r":7,"c":3,"v":1},{"r":7,"c":4,"v":1},{"r":7,"c":5,"v":0},{"r":7,"c":6,"v":1},{"r":7,"c":7,"v":0},{"r":7,"c":8,"v":1},{"r":7,"c":9,"v":1},
{"r":7,"c":10,"v":0},{"r":7,"c":11,"v":1},{"r":7,"c":12,"v":1},{"r":7,"c":13,"v":1},{"r":7,"c":14,"v":1},{"r":7,"c":15,"v":1},{"r":7,"c":16,"v":1},{"r":7,"c":17,"v":0},{"r":7,"c":18,"v":1},{"r":7,"c":19,"v":1},
{"r":7,"c":20,"v":0},{"r":7,"c":21,"v":1},{"r":7,"c":22,"v":0},{"r":7,"c":23,"v":0},{"r":7,"c":24,"v":0},{"r":7,"c":25,"v":0},{"r":7,"c":26,"v":0},{"r":7,"c":27,"v":0},{"r":7,"c":28,"v":0},{"r":7,"c":29,"v":0},
{"r":7,"c":30,"v":0},{"r":7,"c":31,"v":0},{"r":7,"c":32,"v":0},{"r":7,"c":33,"v":0},{"r":7,"c":34,"v":0},{"r":7,"c":35,"v":1},{"r":7,"c":36,"v":0},{"r":7,"c":37,"v":0},{"r":7,"c":38,"v":0},{"r":7,"c":39,"v":0},
{"r":7,"c":40,"v":1},{"r":7,"c":41,"v":1},{"r":7,"c":42,"v":1},{"r":7,"c":43,"v":1},{"r":7,"c":44,"v":1},{"r":7,"c":45,"v":1},{"r":7,"c":46,"v":0.4},{"r":7,"c":47,"v":0},{"r":7,"c":48,"v":0},{"r":7,"c":49,"v":0},
{"r":7,"c":50,"v":0},{"r":7,"c":51,"v":0},{"r":7,"c":52,"v":0},{"r":7,"c":53,"v":0},{"r":7,"c":54,"v":0},{"r":7,"c":55,"v":0},{"r":7,"c":56,"v":0},{"r":7,"c":57,"v":0},{"r":7,"c":58,"v":0},{"r":7,"c":59,"v":0},
{"r":7,"c":60,"v":0},{"r":7,"c":61,"v":0},{"r":7,"c":62,"v":0},{"r":7,"c":63,"v":0},{"r":7,"c":64,"v":0},{"r":7,"c":65,"v":0},{"r":7,"c":66,"v":0},{"r":7,"c":67,"v":0},{"r":7,"c":68,"v":0},{"r":7,"c":69,"v":0},
{"r":7,"c":70,"v":0},{"r":7,"c":71,"v":0},{"r":7,"c":72,"v":0},{"r":7,"c":73,"v":0},{"r":7,"c":74,"v":0},{"r":7,"c":75,"v":0},{"r":7,"c":76,"v":0},{"r":7,"c":77,"v":0},{"r":7,"c":78,"v":0},{"r":7,"c":79,"v":0},
{"r":7,"c":80,"v":0},{"r":7,"c":81,"v":0},{"r":7,"c":82,"v":0},{"r":7,"c":83,"v":0},{"r":7,"c":84,"v":0},{"r":7,"c":85,"v":0},{"r":7,"c":86,"v":0},{"r":7,"c":87,"v":0},{"r":7,"c":88,"v":0},{"r":7,"c":89,"v":0},
{"r":7,"c":90,"v":0},{"r":7,"c":91,"v":0},{"r":7,"c":92,"v":0},{"r":7,"c":93,"v":0},{"r":7,"c":94,"v":0},{"r":7,"c":95,"v":0},{"r":7,"c":96,"v":0},{"r":7,"c":97,"v":0},{"r":7,"c":98,"v":0},{"r":7,"c":99,"v":0},
{"r":7,"c":100,"v":0},{"r":7,"c":101,"v":0},{"r":7,"c":102,"v":0},{"r":7,"c":103,"v":0},{"r":7,"c":104,"v":0},{"r":7,"c":105,"v":0},{"r":7,"c":106,"v":0},{"r":7,"c":107,"v":0},{"r":7,"c":108,"v":0},{"r":7,"c":109,"v":0},
{"r":7,"c":110,"v":0},{"r":7,"c":111,"v":0},{"r":7,"c":112,"v":0},{"r":7,"c":113,"v":0},{"r":7,"c":114,"v":0},{"r":7,"c":115,"v":0},{"r":7,"c":116,"v":0},{"r":7,"c":117,"v":0},{"r":7,"c":118,"v":0},{"r":7,"c":119,"v":0},
{"r":7,"c":120,"v":0},{"r":7,"c":121,"v":0},{"r":7,"c":122,"v":0},{"r":7,"c":123,"v":0},{"r":7,"c":124,"v":0},{"r":7,"c":125,"v":0},{"r":7,"c":126,"v":0},{"r":7,"c":127,"v":0},{"r":7,"c":128,"v":0},{"r":7,"c":129,"v":0},
{"r":7,"c":130,"v":0},{"r":7,"c":131,"v":0},{"r":7,"c":132,"v":0},{"r":7,"c":133,"v":0},{"r":7,"c":134,"v":0},{"r":7,"c":135,"v":0},{"r":7,"c":136,"v":0},{"r":7,"c":137,"v":0},{"r":7,"c":138,"v":1},{"r":7,"c":139,"v":0},
{"r":7,"c":140,"v":0},{"r":7,"c":141,"v":0},{"r":7,"c":142,"v":0},{"r":7,"c":143,"v":0},{"r":7,"c":144,"v":0},{"r":7,"c":145,"v":0},{"r":7,"c":146,"v":0},{"r":7,"c":147,"v":0},{"r":7,"c":148,"v":1},{"r":7,"c":149,"v":1},
{"r":7,"c":150,"v":0},{"r":7,"c":151,"v":0},{"r":7,"c":152,"v":0},{"r":7,"c":153,"v":0},{"r":7,"c":154,"v":0},{"r":7,"c":155,"v":0},{"r":7,"c":156,"v":0},{"r":7,"c":157,"v":0},{"r":7,"c":158,"v":1},{"r":7,"c":159,"v":1}
]},
"layer": [
{
"mark": {"type": "rect", "strokeWidth": 1},
"encoding": {
"x": {"field": "c", "type": "ordinal", "scale": {"paddingInner": 0, "paddingOuter": 0},
  "axis": {"orient": "bottom", "title": null, "values": [0,20,40,60,80,100,120,140], "labelAngle": 0, "zindex": 1,
    "domain": true, "domainColor": "black", "domainWidth": 3.5,
    "tickSize": -15, "tickWidth": 2, "tickColor": "black", "labelFont": "DejaVu Sans", "labelFontSize": 50, "labelColor": "black", "labelPadding": 17}},
"y": {"field": "r", "type": "ordinal", "scale": {"paddingInner": 0, "paddingOuter": 0},
  "axis": {"orient": "left", "title": null, "zindex": 1,
    "domain": true, "domainColor": "black", "domainWidth": 3.5,
    "tickSize": -15, "tickWidth": 2, "tickColor": "black", "labelFont": "DejaVu Sans", "labelFontSize": 50, "labelColor": "black", "labelPadding": 27}},
"color": {"field": "v", "type": "quantitative", "scale": {"domain": [0, 1], "range": ["#008066", "#ffff66"], "interpolate": "rgb"}, "legend": null},
"stroke": {"field": "v", "type": "quantitative", "scale": {"domain": [0, 1], "range": ["#008066", "#ffff66"], "interpolate": "rgb"}, "legend": null}
}
},
{
"mark": {"type": "rect", "opacity": 0},
"encoding": {
"x": {"field": "c", "type": "ordinal",
  "axis": {"orient": "top", "title": null, "values": [0,20,40,60,80,100,120,140], "labels": false, "zindex": 1,
    "domain": true, "domainColor": "black", "domainWidth": 3.5,
    "tickSize": -15, "tickWidth": 2, "tickColor": "black"}},
"y": {"field": "r", "type": "ordinal",
  "axis": {"orient": "right", "title": null, "labels": false, "zindex": 1,
    "domain": true, "domainColor": "black", "domainWidth": 3.5,
    "tickSize": -15, "tickWidth": 2, "tickColor": "black"}}
}
}
],
"resolve": {"axis": {"x": "independent", "y": "independent"}}
}
